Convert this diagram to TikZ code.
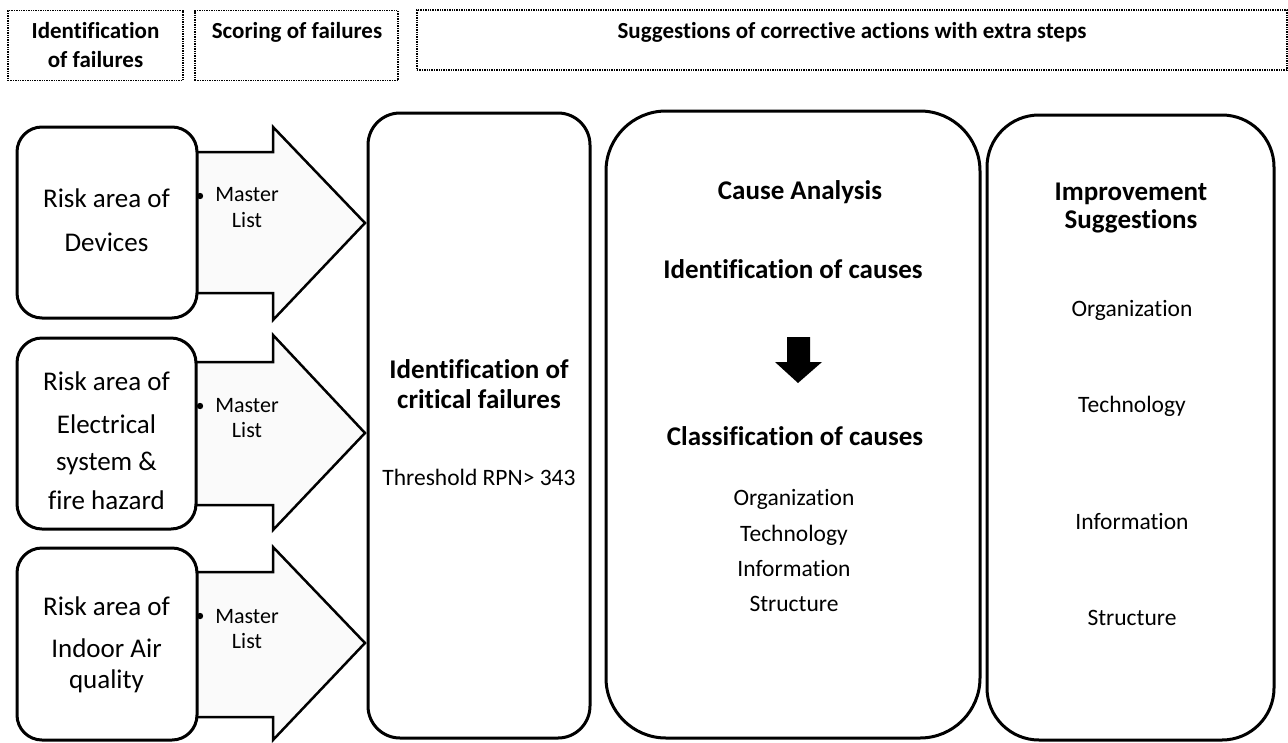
\documentclass[tikz,border=0pt]{standalone}
\usepackage{fontspec}
\setmainfont{Carlito}[Ligatures={NoCommon}]
\begin{document}
\begin{tikzpicture}[x=1pt,y=-1pt,
  hdr/.style={draw, densely dotted, line width=1.4pt, inner sep=0pt},
  rbox/.style={draw, line width=3pt, inner sep=0pt, fill=white},
  blk/.style={draw, line width=2.5pt, fill=black!2, line join=miter},
  big/.style={font=\fontsize{27}{32}\selectfont, anchor=base, inner sep=0pt},
  bigb/.style={font=\fontsize{27}{32}\selectfont\bfseries, anchor=base, inner sep=0pt},
  hdrt/.style={font=\fontsize{23}{28}\selectfont\bfseries, anchor=base, inner sep=0pt},
  mid/.style={font=\fontsize{22}{26}\selectfont, anchor=base, inner sep=0pt},
  sml/.style={font=\fontsize{23.5}{28}\selectfont, anchor=base, inner sep=0pt}]
\useasboundingbox (0,0) rectangle (1288,742);

% header boxes
\node[hdr, minimum width=175pt, minimum height=70pt] (h1) at (95.5,45.5) {};
\node[hdr, minimum width=203pt, minimum height=70pt] (h2) at (296.5,45.5) {};
\node[hdr, minimum width=870pt, minimum height=60pt] (h3) at (852,40) {};
\node[hdrt] (h1a) at (95.5,38) {Identification};
\node[hdrt] (h1b) at (95.5,67) {of failures};
\node[hdrt] (h2a) at (297,38) {Scoring of failures};
\node[hdrt] (h3a) at (852,38) {Suggestions of corrective actions with extra steps};

% block arrows
\draw[blk] (197,152) -- (273,152) -- (273,127) -- (365,223) -- (273,320) -- (273,293) -- (197,293);
\draw[blk] (197,362) -- (273,362) -- (273,335) -- (365,433) -- (273,530) -- (273,505) -- (197,505);
\draw[blk] (197,572) -- (273,572) -- (273,547) -- (365,643) -- (273,740) -- (273,717) -- (197,717);

% risk boxes
\node[rbox, rounded corners=25pt, minimum width=180pt, minimum height=191pt] (A) at (107,222.5) {};
\node[rbox, rounded corners=25pt, minimum width=179pt, minimum height=191pt] (B) at (106.5,433.5) {};
\node[rbox, rounded corners=25pt, minimum width=180pt, minimum height=192pt] (C) at (107,644) {};

\node[big] (a1) at (106.5,207) {Risk area of};
\node[big] (a2) at (106.5,251) {Devices};
\node[big] (b1) at (106.5,390) {Risk area of};
\node[big] (b2) at (106.5,433) {Electrical};
\node[big] (b3) at (106.5,470) {system \&};
\node[big] (b4) at (106.5,509) {fire hazard};
\node[big] (c1) at (106.5,615) {Risk area of};
\node[big] (c2) at (106.5,657) {Indoor Air};
\node[big] (c3) at (106.5,688) {quality};

% master list labels
\fill (200,196) circle (3.2pt);
\fill (200,406) circle (3.2pt);
\fill (200,616) circle (3.2pt);
\node[mid] (m1) at (247,201) {Master};
\node[mid] (l1) at (247,227) {List};
\node[mid] (m2) at (247,412) {Master};
\node[mid] (l2) at (247,437) {List};
\node[mid] (m3) at (247,623) {Master};
\node[mid] (l3) at (247,648) {List};

% big boxes
\node[rbox, rounded corners=32pt, minimum width=222pt, minimum height=625pt] (D) at (479,425.5) {};
\node[rbox, rounded corners=60pt, minimum width=374pt, minimum height=627pt] (E) at (793,424.5) {};
\node[rbox, rounded corners=52pt, minimum width=287pt, minimum height=625pt] (F) at (1130.5,427.5) {};

\node[bigb] (d1) at (479,378) {Identification of};
\node[bigb] (d2) at (479,408) {critical failures};
\node[sml] (d3) at (479,485) {Threshold RPN> 343};

\node[bigb] (e1) at (800,199) {Cause Analysis};
\node[bigb] (e2) at (793,278) {Identification of causes};
\fill (787,337) -- (810,337) -- (810,362) -- (822,362) -- (798,383) -- (775,362) -- (787,362) -- cycle;
\node[bigb] (e3) at (795,445) {Classification of causes};
\node[sml] (e4) at (794,505) {Organization};
\node[sml] (e5) at (794,541) {Technology};
\node[sml] (e6) at (794,576) {Information};
\node[sml] (e7) at (794,611) {Structure};

\node[bigb] (f1) at (1131,200) {Improvement};
\node[bigb] (f2) at (1131,228) {Suggestions};
\node[sml] (f3) at (1132,316) {Organization};
\node[sml] (f4) at (1132,412) {Technology};
\node[sml] (f5) at (1132,529) {Information};
\node[sml] (f6) at (1132,625) {Structure};
\end{tikzpicture}
\end{document}
